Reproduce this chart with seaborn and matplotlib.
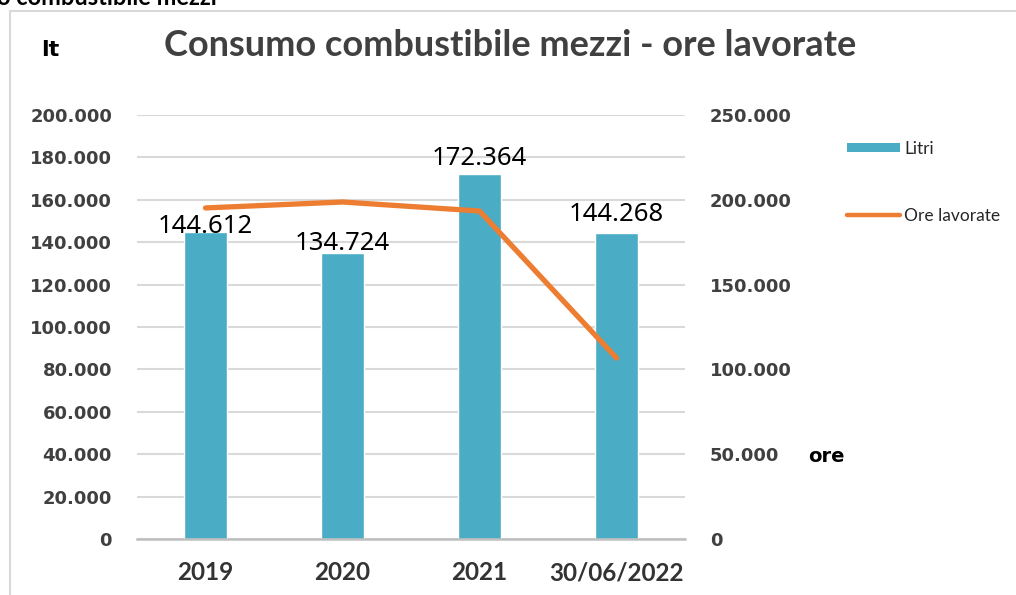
import numpy as np
import pandas as pd
import matplotlib
matplotlib.use("Agg")
import matplotlib.pyplot as plt
import seaborn as sns
from matplotlib.ticker import FuncFormatter, MultipleLocator
from matplotlib.lines import Line2D
from matplotlib.patches import Patch

# ---- data ----
categories = ["2019", "2020", "2021", "30/06/2022"]
litri = [144612, 134724, 172364, 144268]
ore_lavorate = [195200, 198700, 193400, 106700]
bar_labels = ["144.612", "134.724", "172.364", "144.268"]
label_offsets_px = [6, 10, 15, 19]

BAR_C = "#4BACC6"
LINE_C = "#ED7D31"
GRID_C = "#D9D9D9"
TXT_C = "#404040"

sns.set_theme(style="white")
plt.rcParams["font.family"] = ["DejaVu Sans"]

W, H = 1016, 595
fig = plt.figure(figsize=(W / 100, H / 100), dpi=100)
ax = fig.add_axes([137 / W, 1 - 539 / H, (685 - 137) / W, (539 - 115) / H])

df = pd.DataFrame({"cat": categories, "litri": litri})
sns.barplot(data=df, x="cat", y="litri", color=BAR_C, width=0.314, ax=ax,
            saturation=1, zorder=2)
ax.set_xlim(-0.5, len(categories) - 0.5)
ax.set_ylim(0, 200000)
ax.yaxis.set_major_locator(MultipleLocator(20000))
fmt = FuncFormatter(lambda v, p: f"{int(round(v)):,}".replace(",", "."))
ax.yaxis.set_major_formatter(fmt)
ax.grid(axis="y", color=GRID_C, lw=1.5, zorder=0)
ax.set_axisbelow(True)
for s in ["top", "right", "left"]:
    ax.spines[s].set_visible(False)
ax.spines["bottom"].set_color("#BFBFBF")
ax.spines["bottom"].set_linewidth(1.8)
ax.set_xlabel("")
ax.set_ylabel("")
ax.tick_params(axis="y", length=0, pad=18, labelsize=13, labelcolor=TXT_C)
ax.tick_params(axis="x", length=0, pad=16, labelsize=17.5, labelcolor="#333333")
for t in ax.get_yticklabels():
    t.set_fontweight("bold")
for t in ax.get_xticklabels():
    t.set_fontweight("bold")
    t.set_fontfamily("Lato")

# data labels
for i, (v, lab, off) in enumerate(zip(litri, bar_labels, label_offsets_px)):
    ax.annotate(lab, xy=(i, v), xytext=(0, off * 0.72), textcoords="offset points",
                ha="center", va="center", fontsize=18.5, color="black",
                fontfamily="Noto Sans", zorder=5)

ax2 = ax.twinx()
ldf = pd.DataFrame({"pos": np.arange(len(categories)), "ore": ore_lavorate})
sns.lineplot(data=ldf, x="pos", y="ore", color=LINE_C, lw=3.8, ax=ax2,
             solid_capstyle="round", solid_joinstyle="round", zorder=4)
ax2.set_ylim(0, 250000)
ax2.yaxis.set_major_locator(MultipleLocator(50000))
ax2.yaxis.set_major_formatter(fmt)
for s in ax2.spines.values():
    s.set_visible(False)
ax2.set_ylabel("")
ax2.grid(False)
ax2.tick_params(axis="y", length=0, pad=18, labelsize=13, labelcolor=TXT_C)
for t in ax2.get_yticklabels():
    t.set_fontweight("bold")

# title and axis captions
fig.text(510 / W, 1 - 45 / H, "Consumo combustibile mezzi - ore lavorate",
         ha="center", va="center", fontsize=26, fontweight="bold",
         color=TXT_C, fontfamily="Lato")
fig.text(50 / W, 1 - 50 / H, "lt", ha="center", va="center", fontsize=16,
         fontweight="bold", color="black", fontfamily="DejaVu Sans")
fig.text(826 / W, 1 - 457 / H, "ore", ha="center", va="center", fontsize=14,
         fontweight="bold", color="black", fontfamily="DejaVu Sans")
fig.text(-3 / W, 1 - 5 / H, "o combustibile mezzi", ha="left", va="baseline",
         fontsize=17, fontweight="bold", color="black", fontfamily="Lato")

# frame lines
fig.add_artist(Line2D([10 / W, 1.0], [1 - 11 / H, 1 - 11 / H], color=GRID_C,
                      lw=1.5, transform=fig.transFigure))
fig.add_artist(Line2D([10 / W, 10 / W], [1 - 11 / H, 0], color=GRID_C,
                      lw=1.5, transform=fig.transFigure))

# legend
handles = [Patch(facecolor=BAR_C, edgecolor="none", label="Litri"),
           Line2D([0], [0], color=LINE_C, lw=3.2, solid_capstyle="round",
                  label="Ore lavorate")]
leg = fig.legend(handles=handles, loc="upper left",
                 bbox_to_anchor=(838 / W, 1 - 132 / H), frameon=False,
                 fontsize=12.5, handlelength=3.05, handleheight=0.48,
                 handletextpad=0.25, labelspacing=2.95, borderpad=0)
for t in leg.get_texts():
    t.set_color("#262626")
    t.set_fontfamily("Lato")

fig.savefig("out.png", dpi=100)
